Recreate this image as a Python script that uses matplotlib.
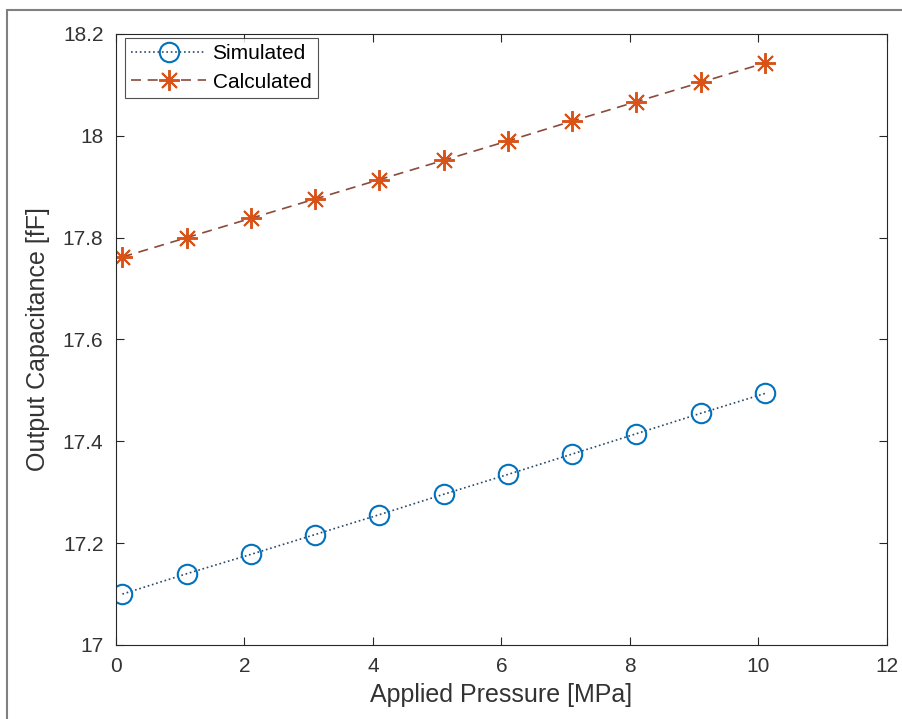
import numpy as np
import matplotlib
matplotlib.use('Agg')
import matplotlib.pyplot as plt
from matplotlib.patches import Rectangle

# data
pressure = [0.1, 1.1, 2.1, 3.1, 4.1, 5.1, 6.1, 7.1, 8.1, 9.1, 10.1]
simulated = [17.100, 17.140, 17.178, 17.217, 17.256, 17.296,
             17.335, 17.375, 17.415, 17.455, 17.494]
calculated = [17.762, 17.800, 17.838, 17.876, 17.914, 17.952,
              17.990, 18.029, 18.067, 18.105, 18.143]
xticks = [0, 2, 4, 6, 8, 10, 12]
yticks = [17, 17.2, 17.4, 17.6, 17.8, 18, 18.2]
ytick_labels = ['17', '17.2', '17.4', '17.6', '17.8', '18', '18.2']

plt.rcParams['font.family'] = ['Liberation Sans', 'DejaVu Sans']

blue = '#0072BD'
orange = '#D95319'
txt = '#262626'

fig = plt.figure(figsize=(9.03, 7.19), dpi=100)
fig.patch.set_facecolor('white')

# screenshot frame around the figure
fig.patches.append(Rectangle((7 / 903, -0.1), 1.2, (719 - 10) / 719 + 0.1,
                             transform=fig.transFigure, fill=False,
                             edgecolor='#808080', linewidth=1.5))

ax = fig.add_axes([116 / 903, 74 / 719, 771 / 903, 611 / 719])

ax.plot(pressure, simulated, linestyle=':', color='#2a4a66', linewidth=1.2,
        marker='o', markersize=14, markerfacecolor='none',
        markeredgecolor=blue, markeredgewidth=1.5, label='Simulated')
ax.plot(pressure, calculated, linestyle=(0, (6, 4)), color='#8a4a3c', linewidth=1.2,
        marker=(8, 2, 0), markersize=15, markerfacecolor=orange,
        markeredgecolor=orange, markeredgewidth=1.4, label='Calculated')

ax.set_xlim(0, 12)
ax.set_ylim(17, 18.2)
ax.set_xticks(xticks)
ax.set_yticks(yticks)
ax.set_yticklabels(ytick_labels)
ax.tick_params(direction='in', length=6, width=0.8, labelsize=15,
               colors=txt, labelcolor='#333333', top=True, right=True, pad=9)
for s in ax.spines.values():
    s.set_color(txt)
    s.set_linewidth(0.8)

ax.set_xlabel('Applied Pressure [MPa]', fontsize=18, color='#333333', labelpad=5)
ax.set_ylabel('Output Capacitance [fF]', fontsize=18, color='#333333', labelpad=9)

leg = ax.legend(loc='upper left', bbox_to_anchor=(125 / 903, 1 - 38 / 719),
                bbox_transform=fig.transFigure, borderaxespad=0,
                fontsize=15, frameon=True, fancybox=False,
                handlelength=3.6, borderpad=0.3,
                labelspacing=0.45, handletextpad=0.3)
leg.get_frame().set_edgecolor(txt)
leg.get_frame().set_linewidth(0.8)

fig.savefig('out.png', dpi=100)
